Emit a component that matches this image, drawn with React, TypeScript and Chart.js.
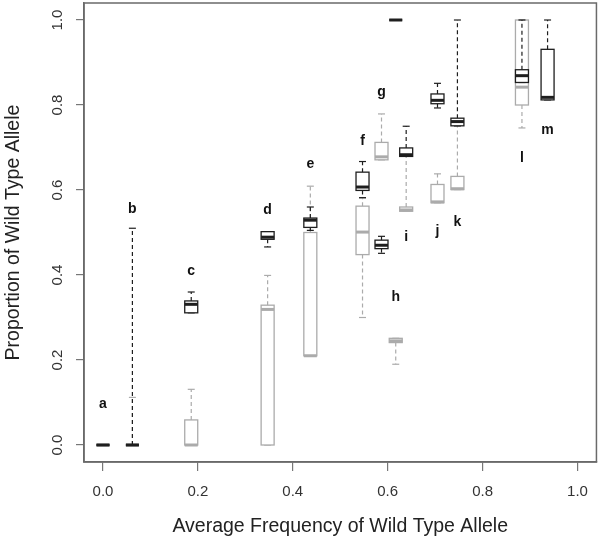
import React, { useEffect, useRef } from "react";
import { Chart, registerables } from "chart.js";

Chart.register(...registerables);

// ---------- data ----------
const groupLabels = ["a", "b", "c", "d", "e", "f", "g", "h", "i", "j", "k", "l", "m"];
const groupX = [0.0, 0.062, 0.186, 0.347, 0.437, 0.547, 0.587, 0.617, 0.639, 0.705, 0.747, 0.883, 0.937];
const labelY = [0.096, 0.556, 0.409, 0.552, 0.662, 0.714, 0.83, 0.347, 0.488, 0.503, 0.524, 0.675, 0.742];

// dark (black) boxes
const darkMin = [0, 0, 0.311, 0.466, 0.505, 0.582, 0.451, 1.0, 0.679, 0.793, 0.751, 0.853, 0.812];
const darkQ1 = [0, 0, 0.311, 0.484, 0.512, 0.599, 0.462, 1.0, 0.679, 0.803, 0.751, 0.853, 0.812];
const darkMedian = [0, 0, 0.331, 0.489, 0.529, 0.607, 0.47, 1.0, 0.683, 0.811, 0.761, 0.869, 0.818];
const darkQ3 = [0, 0, 0.339, 0.502, 0.534, 0.642, 0.482, 1.0, 0.699, 0.826, 0.769, 0.883, 0.931];
const darkMax = [0, 0.51, 0.36, 0.502, 0.56, 0.667, 0.491, 1.0, 0.75, 0.851, 1.0, 1.0, 1.0];

// light (grey) boxes
const lightMin = [0, 0, 0, 0, 0.21, 0.3, 0.671, 0.19, 0.55, 0.57, 0.601, 0.746, null];
const lightQ1 = [0, 0, 0, 0, 0.21, 0.448, 0.671, 0.241, 0.55, 0.57, 0.601, 0.8, null];
const lightMedian = [0, 0, 0, 0.319, 0.21, 0.501, 0.678, 0.245, 0.553, 0.572, 0.603, 0.842, null];
const lightQ3 = [0, 0, 0.059, 0.329, 0.5, 0.562, 0.712, 0.251, 0.56, 0.613, 0.632, 1.0, null];
const lightMax = [0, 0.112, 0.131, 0.399, 0.609, 0.581, 0.779, 0.251, 0.679, 0.638, 0.751, 1.0, null];

const xTicks = [0, 0.2, 0.4, 0.6, 0.8, 1.0];
const yTicks = [0, 0.2, 0.4, 0.6, 0.8, 1.0];

const xTitle = "Average Frequency of Wild Type Allele";
const yTitle = "Proportion of Wild Type Allele";

// ---------- styling ----------
const FONT = "'Liberation Sans', Arial, Helvetica, sans-serif";
const DARK = "#1e1e1e";
const LIGHT = "#ababab";
const AXIS = "#6a6a6a";

function buildPoints(min: (number | null)[], q1: (number | null)[], med: (number | null)[], q3: (number | null)[], max: (number | null)[]) {
  const pts: any[] = [];
  groupX.forEach((x, i) => {
    if (med[i] === null) return;
    pts.push({ x, y: med[i], min: min[i], q1: q1[i], med: med[i], q3: q3[i], max: max[i] });
  });
  return pts;
}

function line(ctx: CanvasRenderingContext2D, x1: number, y1: number, x2: number, y2: number) {
  ctx.beginPath();
  ctx.moveTo(x1, y1);
  ctx.lineTo(x2, y2);
  ctx.stroke();
}

const boxPlugin = {
  id: "boxDraw",
  afterDatasetsDraw(chart: any) {
    const ctx: CanvasRenderingContext2D = chart.ctx;
    const xs = chart.scales.x;
    const ys = chart.scales.y;
    const area = chart.chartArea;
    ctx.save();
    chart.data.datasets.forEach((ds: any) => {
      const color = ds.boxColor;
      ds.data.forEach((d: any) => {
        const cx = xs.getPixelForValue(d.x);
        const hw = 6.5;
        const cw = 3.5;
        const yMin = ys.getPixelForValue(d.min);
        const yQ1 = ys.getPixelForValue(d.q1);
        const yMed = ys.getPixelForValue(d.med);
        const yQ3 = ys.getPixelForValue(d.q3);
        const yMax = ys.getPixelForValue(d.max);
        ctx.strokeStyle = color;
        ctx.lineWidth = 1.2;
        ctx.setLineDash([4, 3]);
        if (yMax < yQ3) line(ctx, cx, yQ3, cx, yMax);
        if (yMin > yQ1) line(ctx, cx, yQ1, cx, yMin);
        ctx.setLineDash([]);
        line(ctx, cx - cw, yMax, cx + cw, yMax);
        line(ctx, cx - cw, yMin, cx + cw, yMin);
        ctx.fillStyle = "#ffffff";
        ctx.fillRect(cx - hw, yQ3, hw * 2, yQ1 - yQ3);
        ctx.lineWidth = 1.3;
        ctx.strokeRect(cx - hw, yQ3, hw * 2, yQ1 - yQ3);
        ctx.lineWidth = 3;
        line(ctx, cx - hw, yMed, cx + hw, yMed);
      });
    });

    // group letters
    ctx.fillStyle = "#111";
    ctx.font = `bold 14px ${FONT}`;
    ctx.textAlign = "center";
    ctx.textBaseline = "middle";
    groupLabels.forEach((l, i) => {
      ctx.fillText(l, xs.getPixelForValue(groupX[i]), ys.getPixelForValue(labelY[i]));
    });

    // frame
    ctx.strokeStyle = AXIS;
    ctx.lineWidth = 1.5;
    ctx.strokeRect(area.left, area.top, area.right - area.left, area.bottom - area.top);

    // y tick labels (rotated, as in R)
    ctx.fillStyle = "#333";
    ctx.font = `15px ${FONT}`;
    yTicks.forEach((v) => {
      const py = ys.getPixelForValue(v);
      ctx.save();
      ctx.translate(58, py);
      ctx.rotate(-Math.PI / 2);
      ctx.textAlign = "center";
      ctx.textBaseline = "middle";
      ctx.fillText(v.toFixed(1), 0, 0);
      ctx.restore();
    });

    // axis titles
    ctx.fillStyle = "#222";
    ctx.font = `19.5px ${FONT}`;
    ctx.textAlign = "center";
    ctx.textBaseline = "middle";
    ctx.fillText(xTitle, (area.left + area.right) / 2, 527);
    ctx.save();
    ctx.translate(14, (area.top + area.bottom) / 2);
    ctx.rotate(-Math.PI / 2);
    ctx.fillText(yTitle, 0, 0);
    ctx.restore();
    ctx.restore();
  },
};

export default function App() {
  const ref = useRef<HTMLCanvasElement | null>(null);
  useEffect(() => {
    if (!ref.current) return;
    const chart = new Chart(ref.current, {
      type: "scatter",
      data: {
        datasets: [
          {
            label: "grey",
            data: buildPoints(lightMin, lightQ1, lightMedian, lightQ3, lightMax),
            pointRadius: 0,
            pointHoverRadius: 0,
            boxColor: LIGHT,
          } as any,
          {
            label: "black",
            data: buildPoints(darkMin, darkQ1, darkMedian, darkQ3, darkMax),
            pointRadius: 0,
            pointHoverRadius: 0,
            boxColor: DARK,
          } as any,
        ],
      },
      options: {
        responsive: false,
        animation: false,
        devicePixelRatio: 1,
        layout: { padding: { top: 3, right: 3, left: 0, bottom: 0 } },
        plugins: { legend: { display: false }, tooltip: { enabled: false } },
        events: [],
        scales: {
          x: {
            type: "linear",
            min: -0.04,
            max: 1.04,
            afterBuildTicks: (s: any) => {
              s.ticks = xTicks.map((v) => ({ value: v }));
            },
            afterFit: (s: any) => {
              s.height = 77;
            },
            ticks: {
              callback: (v: any) => Number(v).toFixed(1),
              font: { family: FONT, size: 15 },
              color: "#333",
              padding: 12,
              maxRotation: 0,
              minRotation: 0,
            },
            grid: { display: true, drawOnChartArea: false, drawTicks: true, tickLength: 9, color: "#777", lineWidth: 1.2 },
            border: { display: true, color: AXIS, width: 1.5 },
          },
          y: {
            type: "linear",
            min: -0.04,
            max: 1.04,
            afterBuildTicks: (s: any) => {
              s.ticks = yTicks.map((v) => ({ value: v }));
            },
            afterFit: (s: any) => {
              s.width = 84;
            },
            ticks: { display: false },
            grid: { display: true, drawOnChartArea: false, drawTicks: true, tickLength: 8, color: "#777", lineWidth: 1.2 },
            border: { display: true, color: AXIS, width: 1.5 },
          },
        },
      },
      plugins: [boxPlugin],
    });
    return () => chart.destroy();
  }, []);
  return (
    <div style={{ position: "absolute", left: 0, top: 0, width: 600, height: 539, background: "#fff" }}>
      <canvas ref={ref} width={600} height={539} />
    </div>
  );
}
